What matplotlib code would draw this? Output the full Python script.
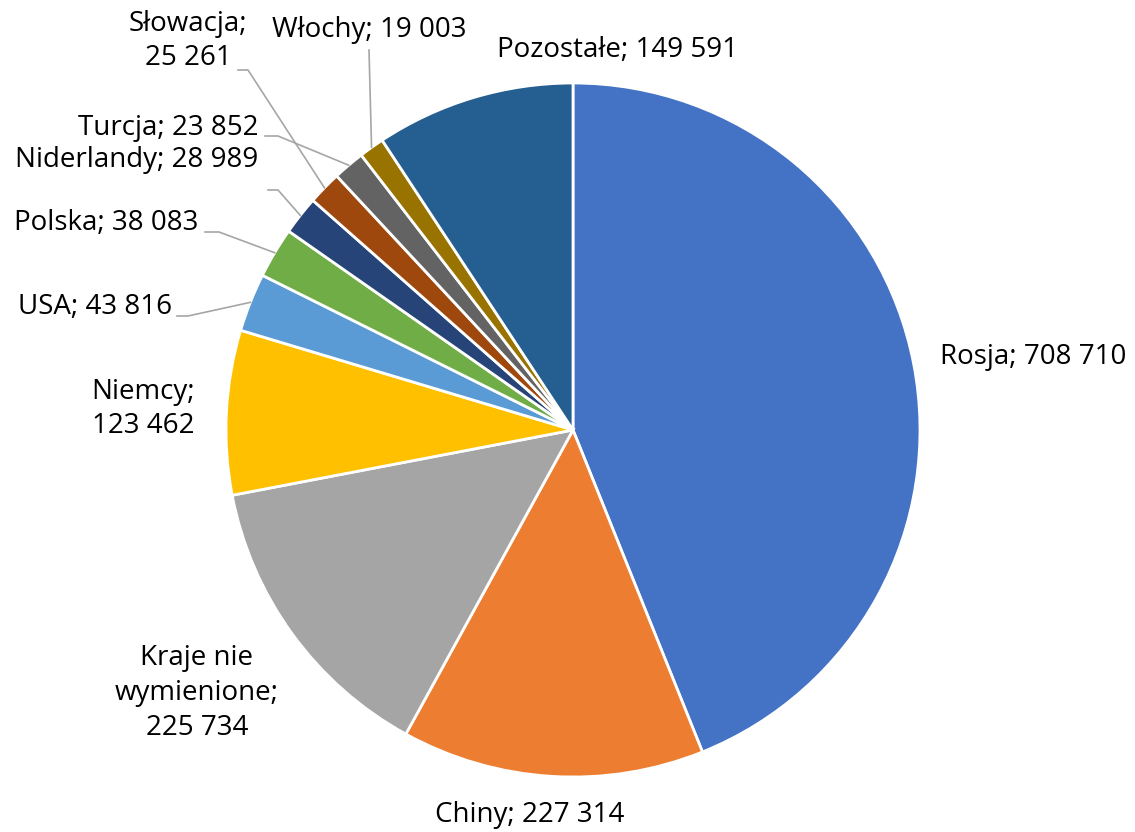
import numpy as np
import matplotlib.pyplot as plt

plt.rcParams['font.family'] = ['Open Sans', 'DejaVu Sans']

labels = ['Rosja', 'Chiny', 'Kraje nie wymienione', 'Niemcy', 'USA', 'Polska',
          'Niderlandy', 'Słowacja', 'Turcja', 'Włochy', 'Pozostałe']
values = [708710, 227314, 225734, 123462, 43816, 38083, 28989, 25261, 23852, 19003, 149591]
label_text = ['Rosja; 708 710', 'Chiny; 227 314', 'Kraje nie\nwymienione;\n225 734',
              'Niemcy;\n123 462', 'USA; 43 816', 'Polska; 38 083', 'Niderlandy; 28 989',
              'Słowacja;\n25 261', 'Turcja; 23 852', 'Włochy; 19 003', 'Pozostałe; 149 591']
colors = ['#4472C4', '#ED7D31', '#A5A5A5', '#FFC000', '#5B9BD5', '#70AD47',
          '#264478', '#9E480E', '#636363', '#997300', '#255E91']

W, H = 1135, 832
fig = plt.figure(figsize=(W / 100, H / 100), dpi=100)
ax = fig.add_axes([0, 0, 1, 1])

cx, cy, R = 573, H - 430, 347
wedges, _ = ax.pie(values, colors=colors, startangle=90, counterclock=False,
                   center=(cx, cy), radius=R, frame=True,
                   wedgeprops=dict(edgecolor='white', linewidth=2))
ax.set_xlim(0, W)
ax.set_ylim(0, H)
ax.set_aspect('equal')
ax.axis('off')

# label placement: (x, y, ha) in pixel coords from top-left, optional leader start
place = {
    'Rosja': (940, 357, 'left', None),
    'Chiny': (530, 815, 'center', None),
    'Kraje nie wymienione': (197, 693, 'center', None),
    'Niemcy': (143, 409, 'center', None),
    'USA': (172, 307, 'right', [(177, 316), (188, 316)]),
    'Polska': (198, 223, 'right', [(205, 232), (219, 232)]),
    'Niderlandy': (258, 160, 'right', [(268, 190), (278, 190)]),
    'Słowacja': (188, 41, 'center', [(238, 70), (248, 70)]),
    'Turcja': (258, 128, 'right', [(265, 136), (278, 136)]),
    'Włochy': (467, 30, 'right', [(369, 50)]),
    'Pozostałe': (738, 50, 'right', None),
}

for w, name, txt in zip(wedges, labels, label_text):
    x, y, ha, lead = place[name]
    ax.text(x, H - y, txt, ha=ha, va='center', fontsize=20, color='#000000',
            linespacing=1.33, multialignment='center')
    if lead:
        ang = np.deg2rad((w.theta1 + w.theta2) / 2)
        ex, ey = cx + R * np.cos(ang), cy + R * np.sin(ang)
        xs = [p[0] for p in lead] + [ex]
        ys = [H - p[1] for p in lead] + [ey]
        ax.plot(xs, ys, color='#A6A6A6', linewidth=1.2)

fig.savefig('out.png', dpi=100, facecolor='white')
